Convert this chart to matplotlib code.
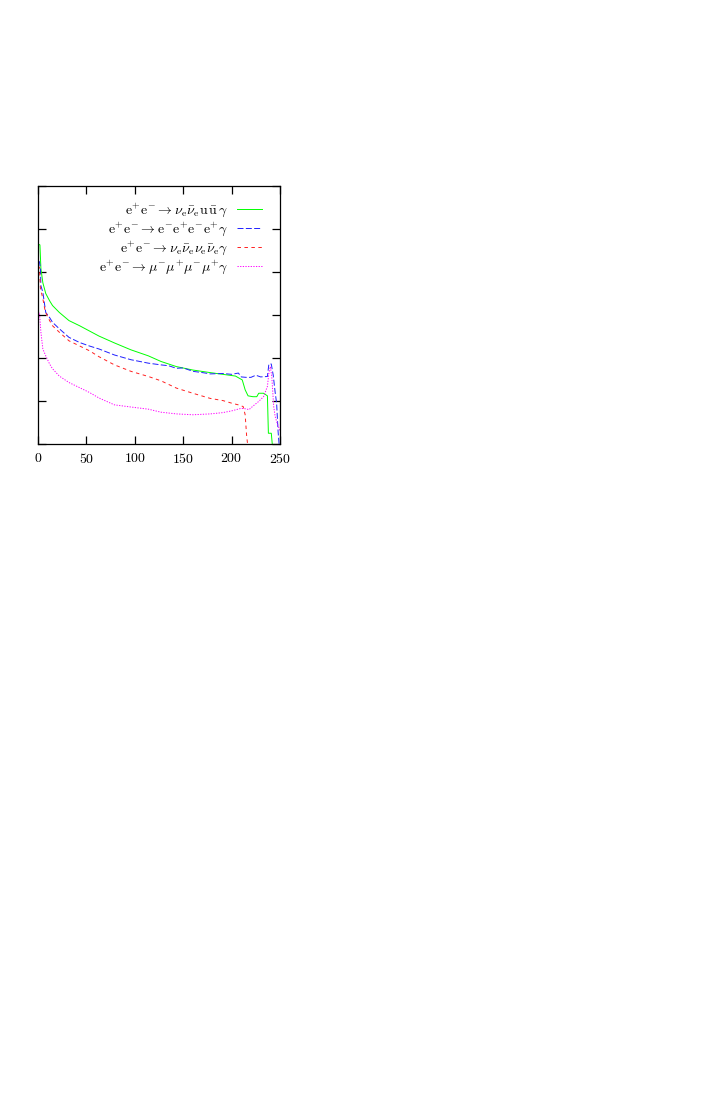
import matplotlib
matplotlib.use("Agg")
import matplotlib.pyplot as plt

plt.rcParams['mathtext.fontset'] = 'cm'
plt.rcParams['font.family'] = 'serif'
plt.rcParams['font.serif'] = ['cmr10', 'DejaVu Serif']
plt.rcParams['axes.formatter.use_mathtext'] = True
plt.rcParams['lines.scale_dashes'] = False

# photon energy spectra (arbitrary units)
green_x = [0, 2, 3, 5, 8, 12, 15, 22, 32, 43, 53, 63, 79, 96, 114, 127, 143, 160,
           178, 191, 204, 211, 214, 217, 222, 226, 228, 233, 237, 238, 241, 242]
green_y = [4.65, 4.63, 4.08, 3.75, 3.5, 3.33, 3.22, 3.06, 2.87, 2.75, 2.63, 2.51, 2.35,
           2.19, 2.05, 1.92, 1.8, 1.72, 1.66, 1.62, 1.58, 1.49, 1.26, 1.12, 1.1, 1.1,
           1.18, 1.18, 1.12, 0.25, 0.25, 0.0]

blue_x = [0, 1.5, 2.5, 3, 5, 8, 12, 15, 22, 32, 43, 53, 63, 79, 96, 114, 127, 135,
          143, 150, 160, 170, 178, 191, 200, 207, 210, 215, 220, 225, 230, 237,
          238.5, 241, 243, 245, 246.5, 248, 249]
blue_y = [4.24, 4.24, 4.08, 3.68, 3.53, 3.06, 2.94, 2.83, 2.68, 2.48, 2.36, 2.28, 2.21,
          2.07, 1.96, 1.88, 1.84, 1.82, 1.76, 1.77, 1.69, 1.66, 1.63, 1.64, 1.62, 1.65,
          1.56, 1.55, 1.55, 1.6, 1.56, 1.57, 1.86, 1.86, 1.6, 1.2, 0.95, 0.3, 0.0]

red_x = [0, 1.5, 2.5, 5, 7.5, 12, 15, 22, 32, 43, 53, 63, 79, 96, 114, 127, 143,
         160, 178, 191, 200, 207, 212, 214, 215.5, 216.5]
red_y = [4.15, 4.1, 3.62, 3.38, 3.08, 2.87, 2.75, 2.6, 2.4, 2.28, 2.17, 2.03, 1.84,
         1.69, 1.57, 1.47, 1.3, 1.18, 1.06, 1.01, 0.95, 0.91, 0.87, 0.68, 0.2, 0.0]

magenta_x = [0, 1.5, 3, 5, 8, 12, 15, 22, 32, 43, 53, 63, 79, 96, 114, 127, 143,
             160, 178, 191, 200, 210, 214, 218, 222, 228, 233, 237, 238.5, 240,
             241.5, 243.5, 245, 247, 250]
magenta_y = [3.06, 3.06, 2.6, 2.21, 2.05, 1.86, 1.75, 1.58, 1.43, 1.31, 1.2, 1.07, 0.91,
             0.86, 0.81, 0.74, 0.7, 0.68, 0.7, 0.73, 0.77, 0.83, 0.82, 0.8, 0.88, 0.99,
             1.1, 1.34, 1.65, 1.8, 1.57, 0.87, 0.64, 0.49, 0.3]

labels = [
    r'$\mathrm{e^{+}e^{-}} \rightarrow \nu_{\mathrm{e}}\bar{\nu}_{\mathrm{e}}\mathrm{u}\,\bar{\mathrm{u}}\,\gamma$',
    r'$\mathrm{e^{+}e^{-}} \rightarrow \mathrm{e^{-}e^{+}e^{-}e^{+}}\gamma$',
    r'$\mathrm{e^{+}e^{-}} \rightarrow \nu_{\mathrm{e}}\bar{\nu}_{\mathrm{e}}\nu_{\mathrm{e}}\bar{\nu}_{\mathrm{e}}\gamma$',
    r'$\mathrm{e^{+}e^{-}} \rightarrow \mu^{-}\mu^{+}\mu^{-}\mu^{+}\gamma$',
]
x_ticks = [0, 50, 100, 150, 200, 250]
y_ticks = [0, 1, 2, 3, 4, 5, 6]

fig = plt.figure(figsize=(7.05, 11.0), dpi=100)
ax = fig.add_axes([38 / 705, 1 - 444 / 1100, 242 / 705, 258 / 1100])

ax.plot(green_x, green_y, color='#00ff00', lw=0.7, label=labels[0])
ax.plot(blue_x, blue_y, color='#2020ff', lw=0.7, dashes=(4.3, 1.7), label=labels[1])
ax.plot(red_x, red_y, color='#ff2020', lw=0.7, dashes=(2.5, 2.5), label=labels[2])
ax.plot(magenta_x, magenta_y, color='#ff00ff', lw=0.7, dashes=(0.9, 1.0), label=labels[3])

ax.set_xlim(0, 250)
ax.set_ylim(0, 6)
ax.set_xticks(x_ticks)
ax.set_yticks(y_ticks)
ax.set_yticklabels([])
ax.tick_params(direction='in', length=6, width=0.9, top=True, right=True,
               labelsize=10, pad=6)
for s in ax.spines.values():
    s.set_linewidth(0.9)

ax.legend(loc='upper right', bbox_to_anchor=(0.927, 0.94), frameon=False,
          markerfirst=False, fontsize=10, handlelength=1.8, handletextpad=0.65,
          labelspacing=0.14, borderpad=0, borderaxespad=0)

fig.savefig('out.png', dpi=100)
